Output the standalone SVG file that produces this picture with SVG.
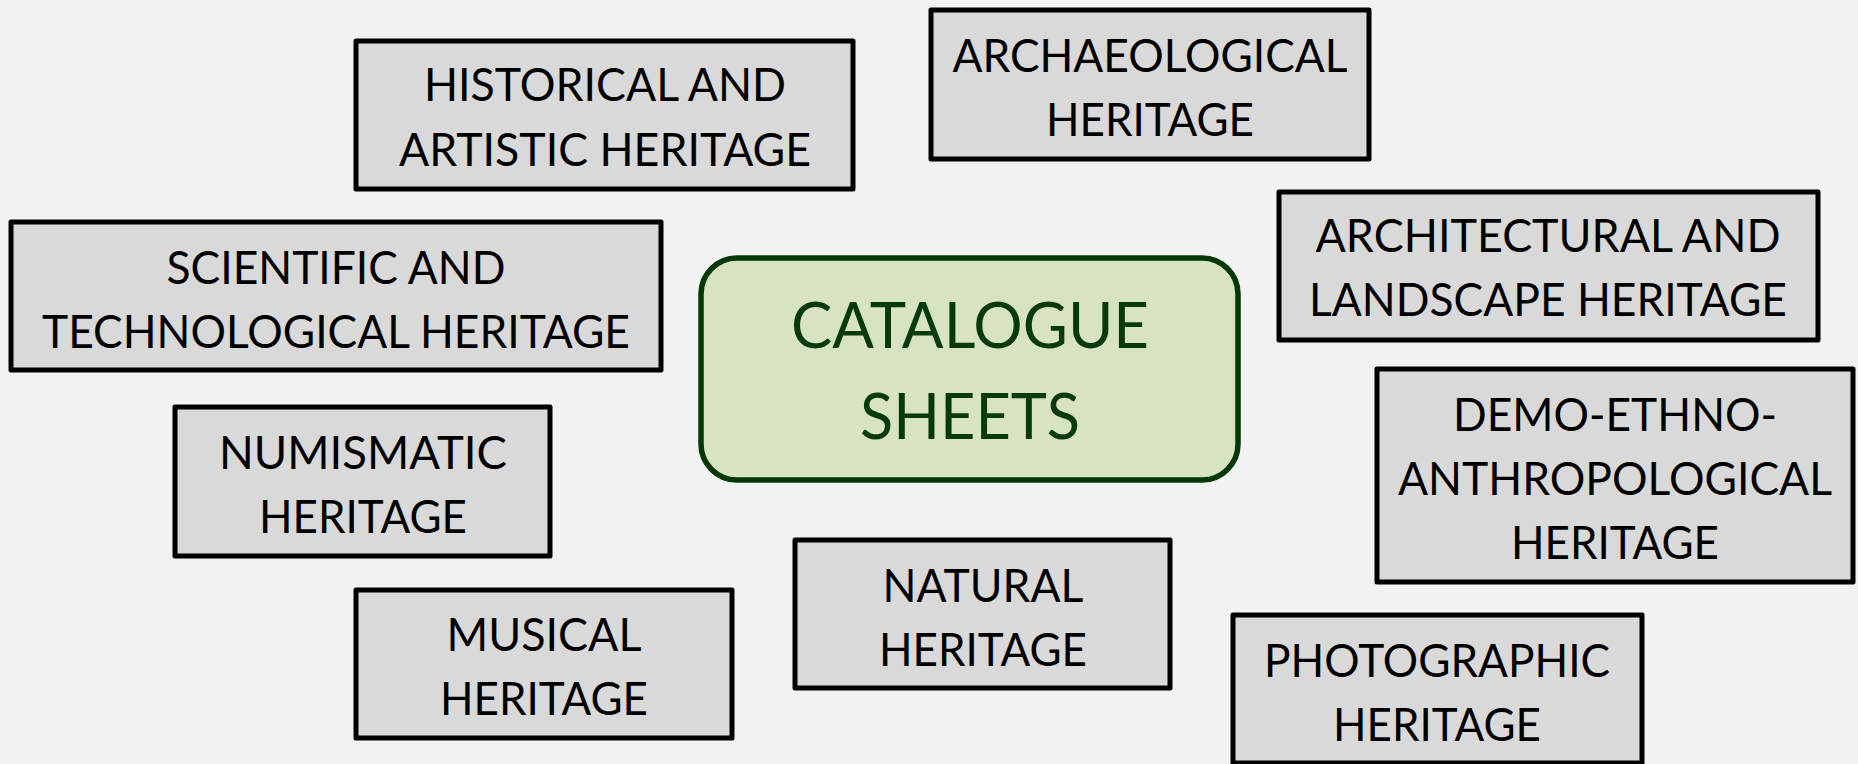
<svg xmlns="http://www.w3.org/2000/svg" width="1858" height="764" viewBox="0 0 1858 764">
<style>
.box{fill:#d9d9d9;stroke:#000;stroke-width:5;stroke-linejoin:round}
.t{font-family:Lato,"Liberation Sans",sans-serif;font-size:47px;fill:#000;text-anchor:middle}
.center{fill:#d7e4bd;stroke:#043804;stroke-width:5.5}
.ct{font-family:Lato,"Liberation Sans",sans-serif;font-size:64px;fill:#063a06;text-anchor:middle}
</style>
<rect x="0" y="0" width="1858" height="764" fill="#f2f2f2"/>
<g id="connectors"/>
<g id="catalogue">
<rect class="center" x="701" y="258" width="537" height="222" rx="36" ry="36"/>
<text class="ct" x="970" y="348" textLength="358" lengthAdjust="spacingAndGlyphs">CATALOGUE</text>
<text class="ct" x="970" y="439" textLength="220" lengthAdjust="spacingAndGlyphs">SHEETS</text>
</g>
<g id="historical">
<rect class="box" x="356" y="41" width="497" height="148"/>
<text class="t" x="605" y="101" textLength="362" lengthAdjust="spacingAndGlyphs">HISTORICAL AND</text>
<text class="t" x="605" y="166" textLength="412" lengthAdjust="spacingAndGlyphs">ARTISTIC HERITAGE</text>
</g>
<g id="archaeological">
<rect class="box" x="931" y="10" width="438" height="149"/>
<text class="t" x="1150" y="72" textLength="395" lengthAdjust="spacingAndGlyphs">ARCHAEOLOGICAL</text>
<text class="t" x="1150" y="136" textLength="208" lengthAdjust="spacingAndGlyphs">HERITAGE</text>
</g>
<g id="scientific">
<rect class="box" x="11" y="222" width="650" height="148"/>
<text class="t" x="336" y="284" textLength="339" lengthAdjust="spacingAndGlyphs">SCIENTIFIC AND</text>
<text class="t" x="336" y="348" textLength="588" lengthAdjust="spacingAndGlyphs">TECHNOLOGICAL HERITAGE</text>
</g>
<g id="architectural">
<rect class="box" x="1279" y="192" width="539" height="148"/>
<text class="t" x="1548" y="252" textLength="465" lengthAdjust="spacingAndGlyphs">ARCHITECTURAL AND</text>
<text class="t" x="1548" y="316" textLength="478" lengthAdjust="spacingAndGlyphs">LANDSCAPE HERITAGE</text>
</g>
<g id="demo">
<rect class="box" x="1377" y="369" width="476" height="213"/>
<text class="t" x="1615" y="431" textLength="324" lengthAdjust="spacingAndGlyphs">DEMO-ETHNO-</text>
<text class="t" x="1615" y="495" textLength="434" lengthAdjust="spacingAndGlyphs">ANTHROPOLOGICAL</text>
<text class="t" x="1615" y="559" textLength="208" lengthAdjust="spacingAndGlyphs">HERITAGE</text>
</g>
<g id="numismatic">
<rect class="box" x="175" y="407" width="375" height="149"/>
<text class="t" x="363" y="469" textLength="288" lengthAdjust="spacingAndGlyphs">NUMISMATIC</text>
<text class="t" x="363" y="533" textLength="208" lengthAdjust="spacingAndGlyphs">HERITAGE</text>
</g>
<g id="musical">
<rect class="box" x="356" y="590" width="376" height="148"/>
<text class="t" x="544" y="651" textLength="195" lengthAdjust="spacingAndGlyphs">MUSICAL</text>
<text class="t" x="544" y="715" textLength="208" lengthAdjust="spacingAndGlyphs">HERITAGE</text>
</g>
<g id="natural">
<rect class="box" x="795" y="540" width="375" height="148"/>
<text class="t" x="983" y="602" textLength="201" lengthAdjust="spacingAndGlyphs">NATURAL</text>
<text class="t" x="983" y="666" textLength="208" lengthAdjust="spacingAndGlyphs">HERITAGE</text>
</g>
<g id="photographic">
<rect class="box" x="1233" y="615" width="409" height="148"/>
<text class="t" x="1437" y="677" textLength="346" lengthAdjust="spacingAndGlyphs">PHOTOGRAPHIC</text>
<text class="t" x="1437" y="741" textLength="208" lengthAdjust="spacingAndGlyphs">HERITAGE</text>
</g>
</svg>
